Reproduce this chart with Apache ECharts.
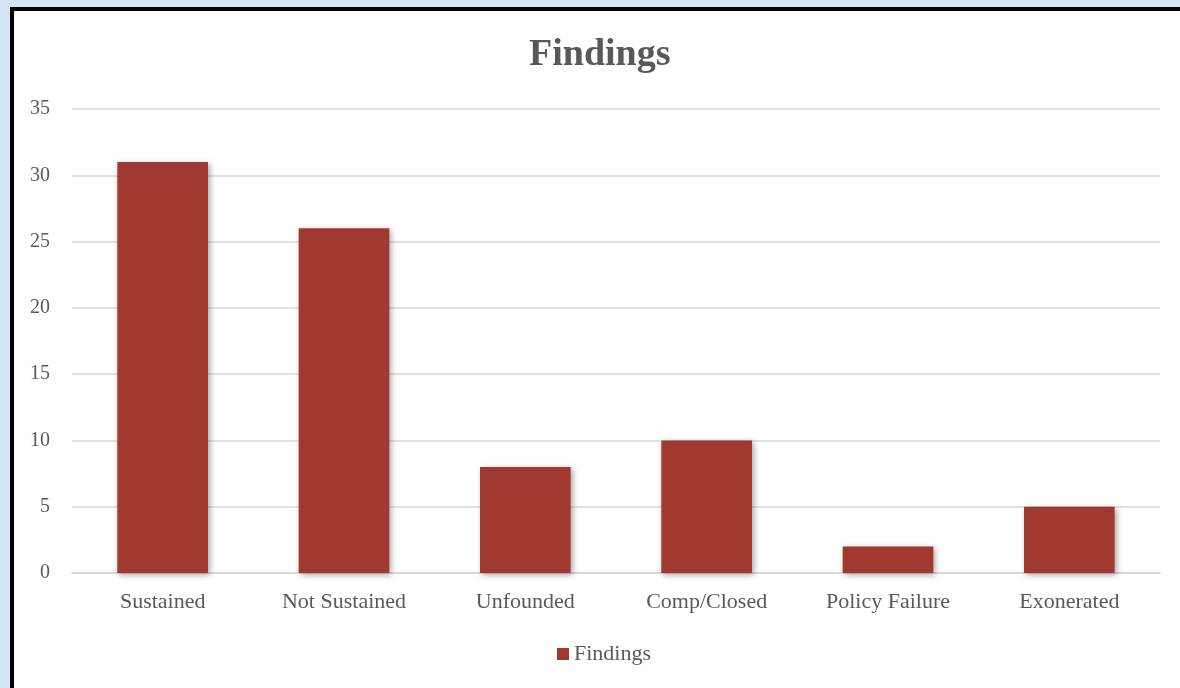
<!DOCTYPE html>
<html>
<head>
<meta charset="utf-8">
<script src="https://cdn.jsdelivr.net/npm/echarts@6/dist/echarts.min.js"></script>
<style>
  html, body { margin: 0; padding: 0; width: 1180px; height: 688px; overflow: hidden;
    background: #d3e4f4; }
  #frame { position: absolute; left: 10px; top: 7px; width: 1200px; height: 720px;
    background: #ffffff; border: 4px solid #000; box-sizing: border-box; }
  #chart { position: absolute; left: 0; top: 0; width: 1180px; height: 688px; }
</style>
</head>
<body>
<div id="frame"></div>
<div id="chart"></div>
<script>
const categories = ['Sustained', 'Not Sustained', 'Unfounded', 'Comp/Closed', 'Policy Failure', 'Exonerated'];
const findingsValues = [31, 26, 8, 10, 2, 5];
const seriesName = 'Findings';
const titleText = 'Findings';

const chart = echarts.init(document.getElementById('chart'), null, { renderer: 'canvas' });
const fontFam = '"Liberation Serif", "DejaVu Serif", serif';
chart.setOption({
  backgroundColor: 'transparent',
  animation: false,
  title: {
    text: titleText,
    left: 524,
    top: 31,
    textStyle: { fontFamily: fontFam, fontSize: 38, fontWeight: 'bold', color: '#595959' }
  },
  legend: {
    data: [seriesName],
    bottom: 18,
    left: 552,
    itemWidth: 12,
    itemHeight: 12,
    itemGap: 6,
    icon: 'rect',
    textStyle: { fontFamily: fontFam, fontSize: 22, color: '#595959' }
  },
  grid: { left: 72, right: 20, top: 109, bottom: 115, containLabel: false },
  xAxis: {
    type: 'category',
    data: categories,
    axisLine: { lineStyle: { color: '#d9d9d9', width: 2 } },
    axisTick: { show: false },
    axisLabel: { fontFamily: fontFam, fontSize: 22, color: '#595959', margin: 18 }
  },
  yAxis: {
    type: 'value',
    min: 0, max: 35, interval: 5,
    axisLine: { show: false },
    axisTick: { show: false },
    splitLine: { lineStyle: { color: '#d9d9d9', width: 1.5 } },
    axisLabel: { fontFamily: fontFam, fontSize: 20, color: '#595959', margin: 22 }
  },
  series: [{
    name: seriesName,
    type: 'bar',
    data: findingsValues,
    barWidth: '50%',
    itemStyle: {
      color: '#a03a31',
      shadowBlur: 6,
      shadowColor: 'rgba(0,0,0,0.35)',
      shadowOffsetX: 2,
      shadowOffsetY: 2
    }
  }]
});
</script>
</body>
</html>
